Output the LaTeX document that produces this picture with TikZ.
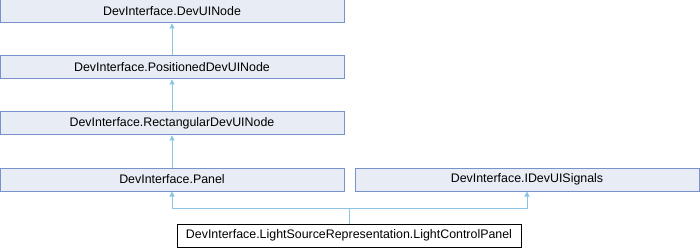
\documentclass[tikz,border=0pt]{standalone}
\usepackage{fontspec}
\setmainfont{Liberation Sans}
\usetikzlibrary{arrows.meta}
\definecolor{boxfill}{RGB}{232,236,245}
\definecolor{boxline}{RGB}{120,146,204}
\definecolor{edgecol}{RGB}{140,196,228}
\begin{document}
\begin{tikzpicture}[x=1pt,y=-1pt,
  cls/.style={draw=boxline,fill=boxfill,line width=1pt,minimum width=344pt,minimum height=23pt,inner sep=0pt,font=\fontsize{12.4}{14}\selectfont},
  cur/.style={cls,draw=black,fill=white},
  inh/.style={draw=edgecol,line width=1pt,-{Triangle[width=5pt,length=5pt]}}]
\useasboundingbox (0,0) rectangle (700,248);
\node[cls] (devuinode) at (172,11.5) {DevInterface.DevUINode};
\node[cls] (positioned) at (172,67.5) {DevInterface.PositionedDevUINode};
\node[cls] (rectangular) at (172,123.5) {DevInterface.RectangularDevUINode};
\node[cls] (panel) at (172,179.5) {DevInterface.Panel};
\node[cls] (signals) at (527,179.5) {DevInterface.IDevUISignals};
\node[cur] (lcp) at (349,235.5) {DevInterface.LightSourceRepresentation.LightControlPanel};
\coordinate (junction) at (349,208);
\draw[inh] (positioned.north) -- (devuinode.south);
\draw[inh] (rectangular.north) -- (positioned.south);
\draw[inh] (panel.north) -- (rectangular.south);
\draw[inh] (lcp.north) -- (junction) -| (panel.south);
\draw[inh] (junction) -| (signals.south);
\end{tikzpicture}
\end{document}
